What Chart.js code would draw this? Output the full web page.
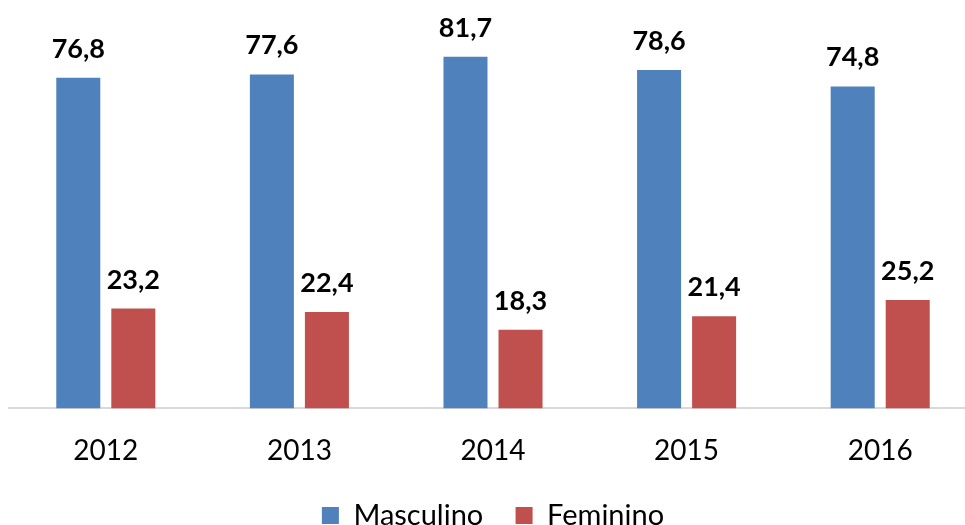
<!DOCTYPE html>
<html>
<head>
<meta charset="utf-8">
<script src="https://cdn.jsdelivr.net/npm/chart.js@4.4.1/dist/chart.umd.min.js"></script>
<style>
  html, body { margin: 0; padding: 0; background: #fff; overflow: hidden; }
  #wrap { position: absolute; left: 0; top: 0; width: 990px; height: 540px; }
</style>
</head>
<body>
<div id="wrap"><canvas id="myChart" width="990" height="540"></canvas></div>
<script>
const years = ['2012', '2013', '2014', '2015', '2016'];
const masculino = [76.8, 77.6, 81.7, 78.6, 74.8];
const feminino = [23.2, 22.4, 18.3, 21.4, 25.2];

const FONT = 'Lato, "Open Sans", sans-serif';

// value labels above each bar, comma decimal
const barLabels = {
    id: 'barLabels',
    afterDatasetsDraw(chart) {
        const ctx = chart.ctx;
        ctx.save();
        ctx.font = 'bold 27px ' + FONT;
        ctx.fillStyle = '#000';
        ctx.textAlign = 'center';
        ctx.textBaseline = 'alphabetic';
        chart.data.datasets.forEach((ds, i) => {
            chart.getDatasetMeta(i).data.forEach((bar, j) => {
                const txt = ds.data[j].toFixed(1).replace('.', ',');
                ctx.fillText(txt, bar.x, bar.y - 20);
            });
        });
        ctx.restore();
    }
};

const data = {
    labels: years,
    datasets: [{
        label: 'Masculino   ',
        backgroundColor: '#4F81BD',
        data: masculino,
    }, {
        label: 'Feminino',
        backgroundColor: '#C0504D',
        data: feminino,
    }]
};

const config = {
    type: 'bar',
    data: data,
    options: {
        responsive: false,
        animation: false,
        categoryPercentage: 0.5685,
        barPercentage: 0.8,
        layout: { padding: { left: 9, right: 13, top: 21, bottom: 0 } },
        plugins: {
            tooltip: { enabled: false },
            legend: {
                position: 'bottom',
                labels: {
                    boxWidth: 17,
                    boxHeight: 17,
                    padding: 10,
                    color: '#000',
                    font: { family: FONT, size: 29 }
                }
            }
        },
        scales: {
            x: {
                grid: { display: false },
                border: { color: '#d9d9d9', width: 2 },
                ticks: { color: '#000', padding: 18, font: { family: FONT, size: 28 } },
                afterFit(scale) { scale.height += 5; }
            },
            y: {
                display: false,
                min: 0,
                max: 90
            }
        }
    },
    plugins: [barLabels]
};

const myChart = new Chart(document.getElementById('myChart'), config);
</script>
</body>
</html>
